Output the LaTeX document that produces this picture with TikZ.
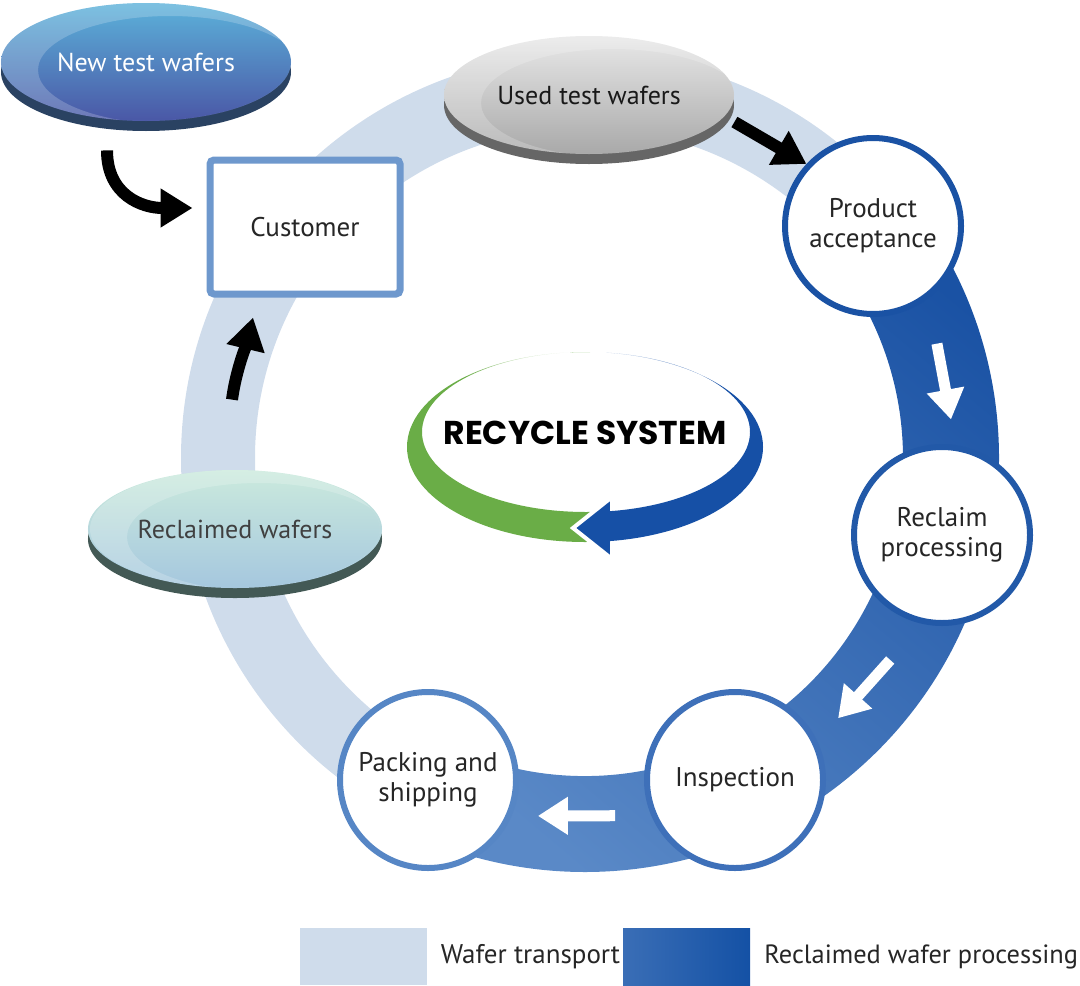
\documentclass[tikz,border=0pt]{standalone}
\usepackage{fontspec}
\setmainfont{PT Sans}
\newfontfamily\titlefont{Poppins}
\usetikzlibrary{shapes.geometric,arrows.meta,calc,positioning,shadows,fadings}
\definecolor{ringlight}{HTML}{CFDCEB}
\definecolor{ringdark}{HTML}{1A52A4}
\definecolor{ringmid}{HTML}{5A89C7}
\definecolor{rpcol}{HTML}{2259A8}
\definecolor{inspcol}{HTML}{3E70B9}
\definecolor{packcol}{HTML}{5686C5}
\definecolor{legleft}{HTML}{3A6EB6}
\definecolor{legright}{HTML}{1451A5}
\definecolor{custblue}{HTML}{6E98CD}
\definecolor{recgreen}{HTML}{6AAD47}
\definecolor{recblue}{HTML}{1650A6}
\definecolor{nwtop}{HTML}{5CB2DA}
\definecolor{nwbot}{HTML}{4A57A6}
\definecolor{nwrim}{HTML}{2A4262}
\definecolor{usedtop}{HTML}{E8E8E8}
\definecolor{usedbot}{HTML}{A9A9A9}
\definecolor{usedrim}{HTML}{666666}
\definecolor{rwtop}{HTML}{CBEADD}
\definecolor{rwbot}{HTML}{A5C7DE}
\definecolor{rwrim}{HTML}{435955}
\tikzfading[name=fadein, left color=transparent!100, right color=transparent!0]
\tikzfading[name=fadeout, left color=transparent!0, right color=transparent!100]
\begin{document}
\begin{tikzpicture}[x=0.5pt, y=-0.5pt,
  font=\fontsize{13.5}{15}\selectfont,
  stage/.style={draw=#1, circle, line width=3pt, fill=white, minimum size=88pt, align=center, text=black!85},
  wafer/.style={ellipse, minimum width=145pt, minimum height=59pt, general shadow={shadow yshift=-5pt, fill=#1}},
  blackarrow/.style={line width=6pt, -{Triangle[width=18.5pt,length=16pt]}},
  whitearrow/.style={white, line width=5.5pt, -{Triangle[width=18pt,length=15pt]}},
  legendbox/.style={minimum width=63.5pt, minimum height=28.5pt, inner sep=0pt}]
\useasboundingbox (0,0) rectangle (1080,985);

% ring
\coordinate (ctr) at (585,458);
\draw[ringlight, line width=37pt] (ctr) circle [radius=367];
\shade[top color=ringdark, bottom color=ringmid, shading angle=-40]
  ($(ctr)+(-40:414)$) arc [start angle=-40, end angle=117, radius=414]
  -- ($(ctr)+(117:318)$) arc [start angle=117, end angle=-40, radius=318] -- cycle;

% stages
\node[stage=ringdark] (pa) at (873,226) {Product\\acceptance};
\node[stage=rpcol] (rp) at (942,535) {Reclaim\\processing};
\node[stage=inspcol] (insp) at (735,780) {Inspection};
\node[stage=packcol] (pack) at (428,780) {Packing and\\shipping};
\node[draw=custblue, line width=3.5pt, rounded corners=2pt, fill=white, minimum width=95pt, minimum height=67pt, text=black!85] (cust) at (305,227) {Customer};

% wafers
\node[wafer=nwrim, top color=nwtop, bottom color=nwbot, text=white, font=\fontsize{13}{15}\selectfont] (nw) at (146,62) {New test wafers};
\node[wafer=usedrim, top color=usedtop, bottom color=usedbot, text=black!90, font=\fontsize{13}{15}\selectfont] (used) at (589,95) {Used test wafers};
\node[wafer=rwrim, top color=rwtop, bottom color=rwbot, text=black!75, font=\fontsize{13}{15}\selectfont] (rw) at (235,529) {Reclaimed wafers};
\foreach \w in {nw,used,rw} {
  \begin{scope}
    \clip (\w.center) ellipse [x radius=145, y radius=59];
    \fill[white, opacity=.2, even odd rule] (\w.center) ellipse [x radius=145, y radius=59]
      ($(\w.center)+(24,8)$) ellipse [x radius=132, y radius=54];
  \end{scope}
}

% arrows
\draw[blackarrow] ($(nw.south)+(-19.5pt,-14.5pt)$) .. controls +(0,45) and +(-50,0) .. ($(cust.west)+(-7pt,9.5pt)$);
\draw[blackarrow] ($(used.east)+(0pt,-13.5pt)$) -- (pa.137);
\draw[blackarrow] ($(rw.north)+(-1.5pt,35pt)$) .. controls +(4,-30) and +(-6,25) .. ($(cust.south)+(-26pt,-10pt)$);
\coordinate (w1s) at ($(ctr)+(-18:370)$);
\coordinate (w1e) at ($(ctr)+(-6:368)$);
\coordinate (w2s) at ($(ctr)+(33.5:366)$);
\coordinate (w2e) at ($(ctr)+(45.8:363)$);
\coordinate (w3s) at ($(ctr)+(85.2:359)$);
\coordinate (w3e) at ($(ctr)+(97.5:361)$);
\draw[whitearrow] (w1s) -- (w1e);
\draw[whitearrow] (w2s) -- (w2e);
\draw[whitearrow] (w3s) -- (w3e);

% recycle swoosh
\begin{scope}
  \clip (400,340) rectangle (590,560);
  \fill[recgreen, even odd rule]
    (585,447) ellipse [x radius=178, y radius=95] (586,432) ellipse [x radius=164, y radius=80];
  \fill[white, path fading=fadein] (460,345) rectangle (570,400);
\end{scope}
\filldraw[fill=recblue, draw=white, line width=2pt] (612,497) -- (573,528) -- (612,559) -- cycle;
\begin{scope}
  \clip (606,340) rectangle (780,560);
  \fill[recblue, even odd rule]
    (585,447) ellipse [x radius=178, y radius=95] (586,432) ellipse [x radius=164, y radius=80];
  \fill[white, path fading=fadeout, opacity=.8] (600,345) rectangle (720,395);
\end{scope}
\node[font=\titlefont\bfseries\fontsize{16.5}{18}\selectfont] (title) at (585,433) {RECYCLE SYSTEM};

% legend
\node[legendbox, fill=ringlight] (lt) at (363,956.5) {};
\node[right=3.5pt of lt, text=black!85] (ltxt) {Wafer transport};
\node[legendbox, left color=legleft, right color=legright] (ld) at (686.5,956.5) {};
\node[right=3.5pt of ld, text=black!85, font=\fontsize{13.2}{15}\selectfont] (ldtxt) {Reclaimed wafer processing};
\end{tikzpicture}
\end{document}
